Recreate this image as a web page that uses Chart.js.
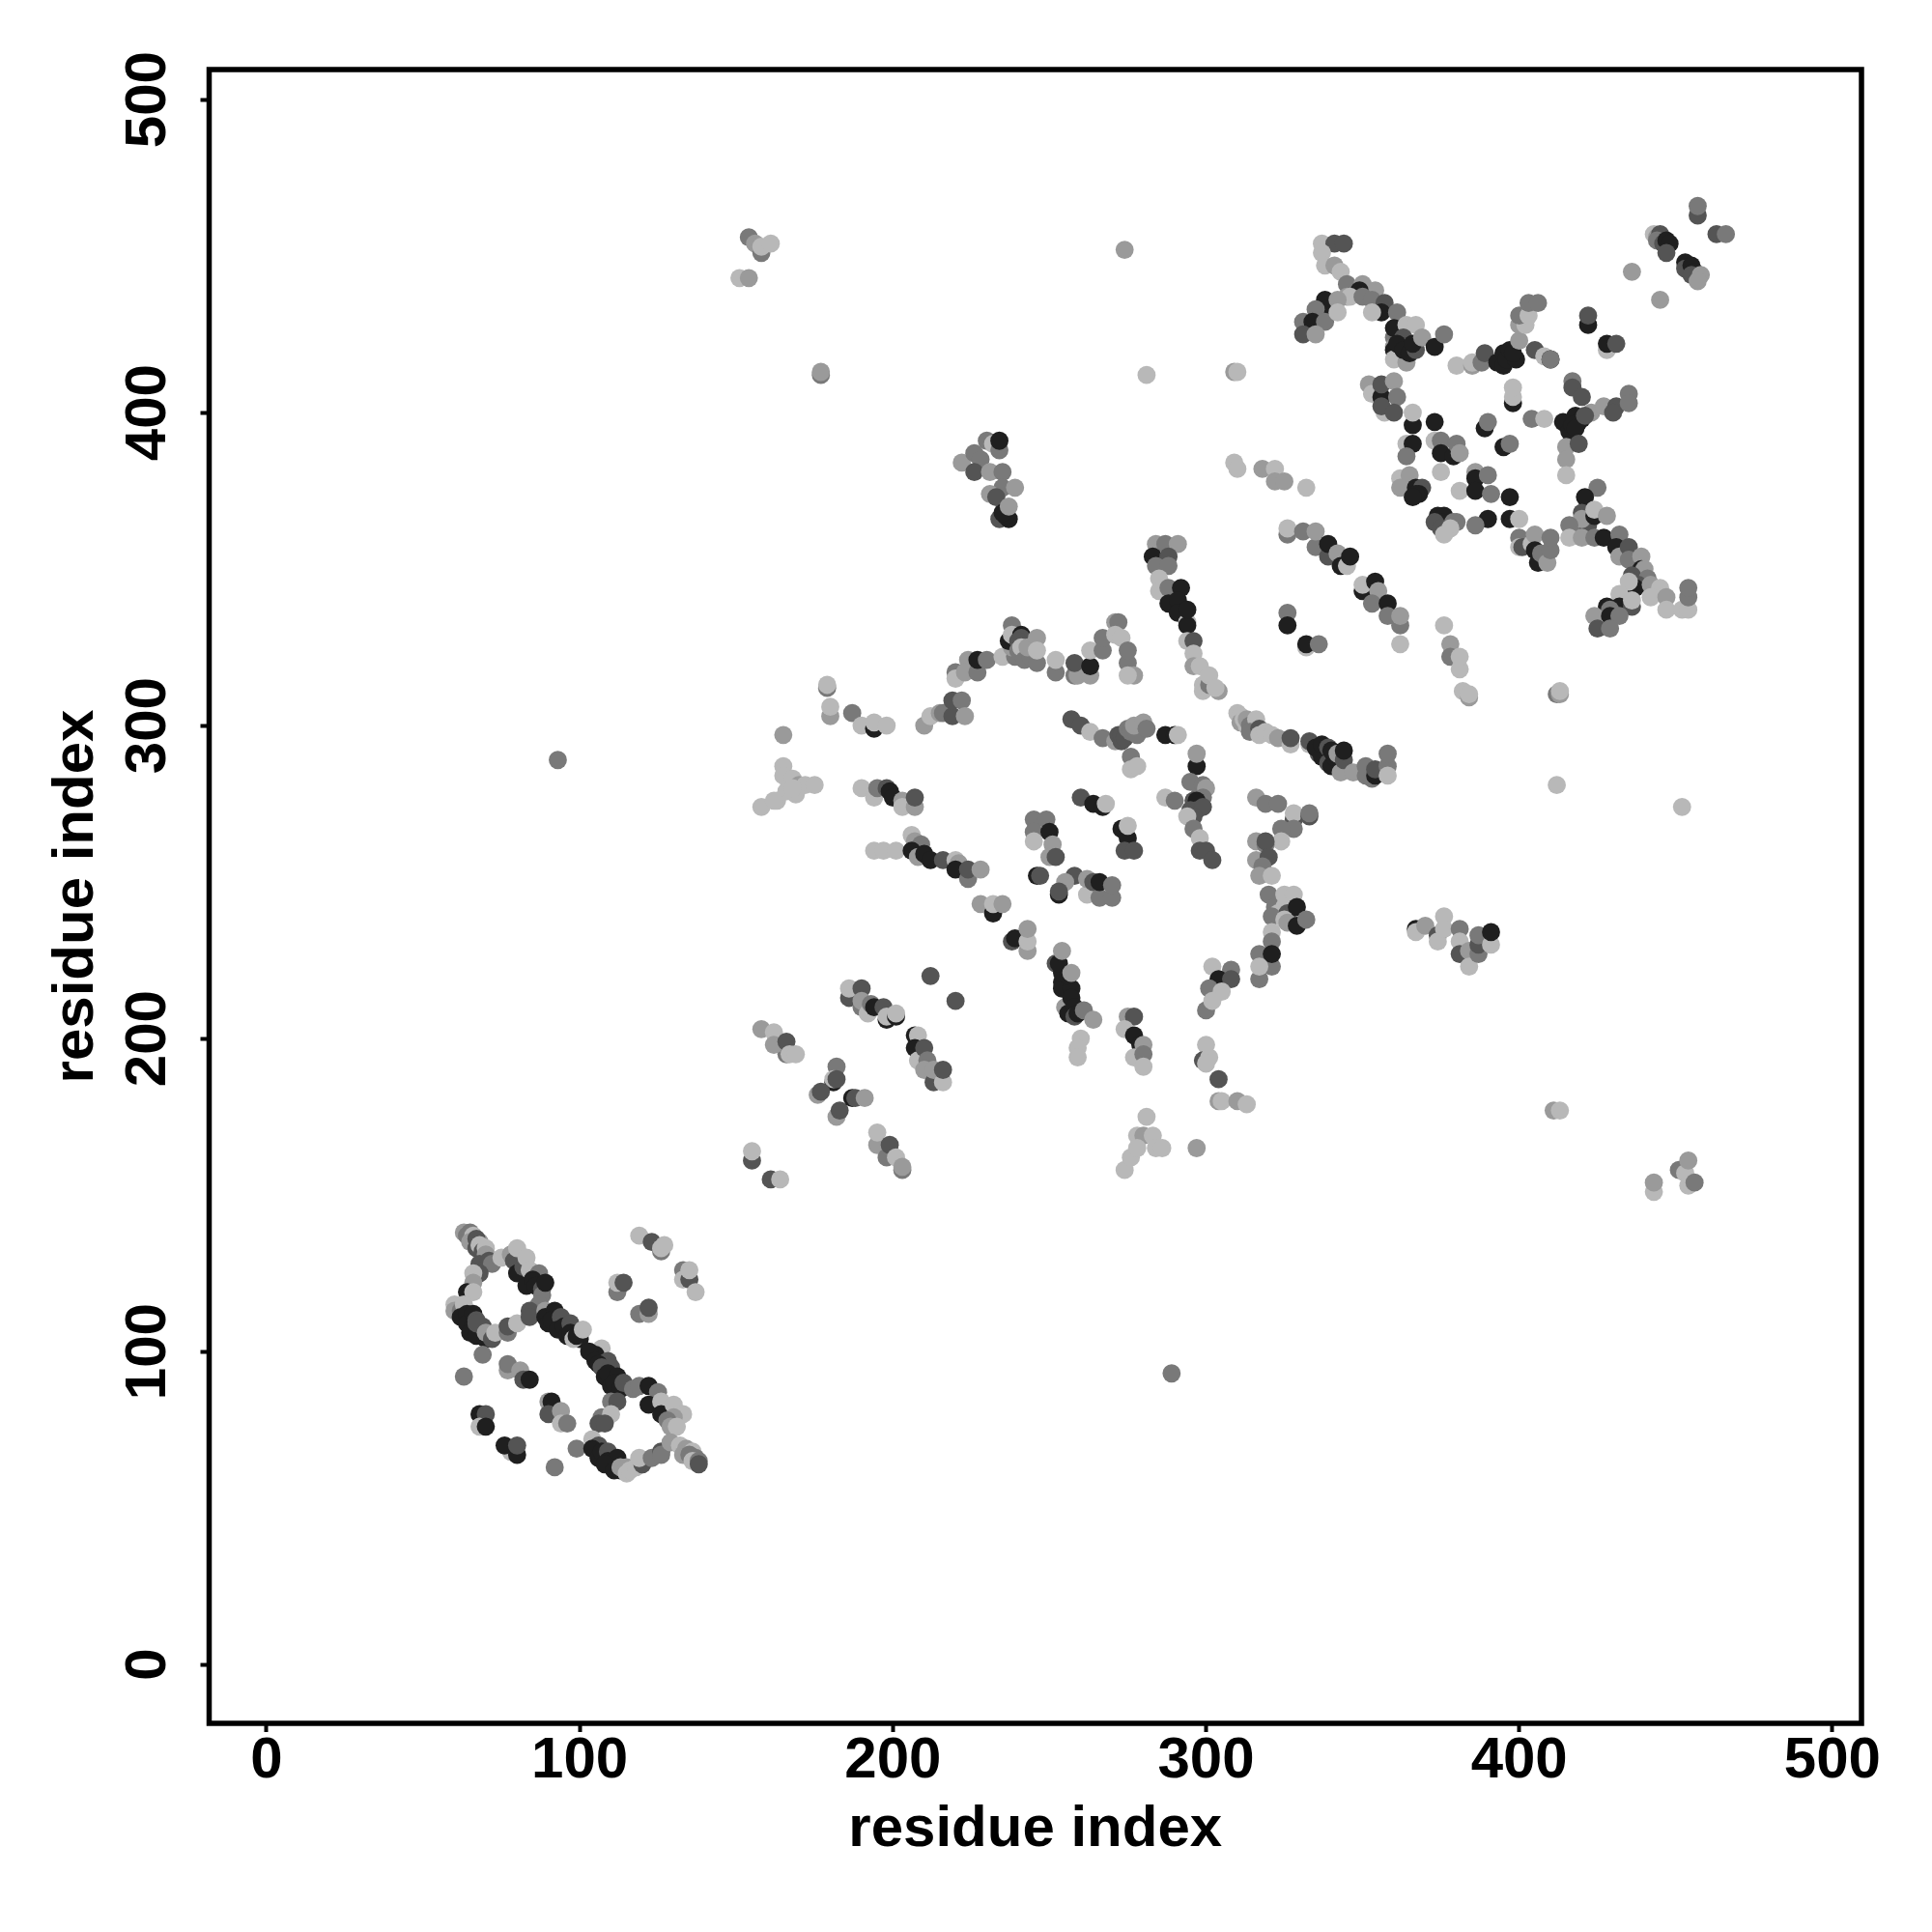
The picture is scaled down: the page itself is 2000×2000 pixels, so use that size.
<!DOCTYPE html>
<html>
<head>
<meta charset="utf-8">
<title>residue contacts</title>
<script src="https://cdn.jsdelivr.net/npm/chart.js@4"></script>
<style>
    html, body { margin: 0; padding: 0; background: #fff; }
    canvas { display: block; }
</style>
</head>
<body>
<canvas id="contactChart" width="2000" height="2000"></canvas>
<script>
// contacts: [residue x, residue y, darkness 1-5]
const lowerLeftContacts = [
    [63,138,2],[64,137,3],[65,138,3],[66,137,1],[65,135,2],[68,135,2],[67,136,4],[67,133,4],[68,134,1],[69,132,4],[70,133,1],[70,131,2],
    [68,128,4],[71,129,4],[72,128,3],[75,130,1],[78,131,2],[79,129,4],[80,128,4],[80,125,5],[80,133,1],[82,127,4],[83,130,1],[84,126,1],[87,125,3],[83,121,5],[85,123,5],[86,121,5],[88,120,4],[88,118,3],[87,115,3],[89,122,5],
    [68,125,4],[66,125,1],[66,122,2],[64,119,5],[66,119,1],[60,115,1],[60,113,2],[62,113,3],[63,115,1],
    [62,111,5],[64,112,5],[64,109,5],[66,112,5],[66,108,5],[65,106,5],[68,107,5],[67,105,5],[70,104,5],[67,110,4],[69,108,4],[67,109,4],[70,106,2],[72,104,4],[73,106,1],
    [77,106,3],[77,108,4],[80,109,1],[84,113,4],[84,111,4],
    [89,113,2],[89,111,5],[92,113,5],[90,109,5],[91,110,5],[94,111,4],[93,107,5],[95,108,5],[97,109,4],[96,105,5],[97,106,5],[100,104,5],[98,104,1],[99,105,5],[101,107,1],
    [69,99,3],[63,92,3],[77,94,2],[77,96,3],[81,94,2],[82,91,4],[84,91,5],
    [68,80,5],[70,80,4],[68,76,1],[70,76,5],[78,68,1],[76,70,5],[80,67,5],[80,70,4],
    [90,84,2],[91,84,5],[90,80,4],[94,81,2],[94,77,1],[96,77,3],[99,69,3],[92,63,3]
];
const lowerRightContacts = [
    [107,101,1],[105,99,5],[103,100,5],[105,97,5],[109,97,4],[106,96,5],[107,95,4],[110,95,4],[108,92,5],[109,93,5],[112,92,5],[110,89,5],[111,90,5],[113,88,5],[114,90,4],[117,88,3],[119,89,3],[122,89,5],[125,87,3],[122,83,5],[126,84,1],[126,80,5],[130,83,1],[133,80,1],[130,79,2],[128,78,3],[129,76,2],[131,76,1],
    [110,84,3],[112,84,4],[107,79,3],[110,80,1],[106,77,4],[108,77,4],[104,72,1],
    [106,70,4],[104,69,5],[106,66,5],[107,68,5],[109,68,4],[109,65,5],[111,64,4],[112,66,5],[108,64,5],[111,62,5],[113,62,5],[113,63,2],[115,63,2],[115,61,1],[116,62,1],[118,63,1],[120,64,4],[119,66,1],[123,66,3],[126,68,4],[126,67,3],
    [129,71,2],[132,70,1],[134,69,2],[133,67,2],[136,68,1],[135,67,3],[137,66,3],[136,65,1],[138,65,3],[138,64,4],
    [119,137,1],[123,135,4],[126,132,3],[126,133,1],[127,134,1],[133,126,3],[133,123,1],[135,123,4],[135,126,1],[137,119,1],
    [112,119,3],[112,122,1],[114,122,4],[119,112,3],[122,112,2],[122,114,4]
];
const diagonalStripContacts = [
    [155,161,4],[155,164,1],[161,155,4],[164,155,1],
    [166,195,3],[158,203,2],[162,202,1],[162,198,2],[166,199,4],[167,195,1],[169,195,1],
    [182,191,3],[181,186,5],[181,187,1],[182,187,4],[176,182,2],[177,183,4],[182,175,2],[183,177,4],[187,181,5],[188,181,4],[191,181,2],
    [195,166,2],[195,170,1],[198,162,3],[199,166,4],[201,162,1],[203,158,3],[203,159,2],
    [186,213,4],[186,216,1],[190,216,4],[190,210,3],[190,212,2],[192,208,1],[193,211,3],[194,210,5],[197,210,4],[198,206,5],[198,207,1],[201,207,5],[201,208,1],
    [212,220,4],[220,212,4],
    [207,201,5],[208,201,1],[207,197,5],[208,193,1],[210,197,4],[211,193,3],[210,190,2],[213,186,4],[213,190,2],[216,186,1],[216,190,4],
    [228,243,2],[232,240,5],[232,243,1],[235,243,2],[238,231,4],[239,232,5],[243,228,2],[243,231,1],[243,235,2],
    [252,224,4],[254,218,5],[254,216,5],[254,221,5],[253,224,5],[254,228,2],[257,216,5],[256,220,5],[257,221,2],[255,210,2],[257,213,5],[256,208,5],[258,210,5],[258,207,4],[259,208,5],[261,209,3],[264,206,2],
    [260,200,1],[259,197,1],[259,194,1],
    [275,207,2],[277,207,4],[274,203,1],[277,201,5],[279,198,5],[280,198,2],[277,194,1],[280,195,3],[280,191,1],
    [274,158,1],[276,162,1],[281,175,1],[278,169,1],[280,169,2],[283,169,1],[284,165,1],[278,165,1],[286,165,1],[297,165,2]
];
const centreBandContacts = [
    [165,297,2],[165,287,1],[165,284,1],[168,283,1],[170,281,2],[172,281,1],[175,281,1],[169,278,1],[166,279,1],[163,276,1],[168,280,1],[158,274,1],[162,276,1],
    [179,312,3],[179,313,1],[180,303,2],[180,306,1],[187,304,3],[190,300,1],[194,299,5],[194,301,1],[198,300,1],
    [210,300,2],[212,303,1],[215,304,2],[216,304,3],[219,303,4],[219,308,4],[222,308,3],[223,303,2],
    [220,317,3],[220,315,1],[224,321,2],[223,317,2],[227,317,3],[227,321,5],[230,321,3],[235,322,1],
    [238,332,3],[239,322,3],[238,325,2],[237,327,5],[238,329,1],[241,329,5],[241,328,4],[240,327,4],[240,324,3],[241,325,1],[242,321,3],[244,322,3],[243,325,2],[246,320,3],[246,328,2],[246,324,1],
    [252,317,3],[252,321,1],[258,316,3],[259,316,2],[258,320,4],[263,316,2],[263,319,5],[263,324,1],[267,324,3],[267,328,3],[271,333,2],[272,333,3],[271,329,1],[273,328,1],[275,320,3],[275,324,3],[277,316,2],[275,316,1],
    [257,302,4],[260,300,4],[263,298,1],[267,296,3],[271,295,2],[272,297,4],[273,295,4],[273,297,4],[274,296,4],[275,299,3],[276,298,3],[278,297,3],[277,300,2],[280,301,2],[281,299,3],[287,297,5],[290,297,5],[291,297,1],
    [276,290,3],[276,286,1],[278,287,1],
    [190,280,1],[194,277,1],[195,280,3],[198,280,4],[199,279,5],[200,277,5],[203,276,2],[203,274,1],[207,274,2],[207,277,4],
    [194,260,1],[197,260,1],[201,260,1],[206,265,1],[207,263,2],[209,262,3],[206,260,5],[208,258,2],[210,259,5],[212,257,5],[216,257,4],[220,257,1],[221,256,2],[220,254,5],[224,251,3],[224,254,4],[228,254,2],
    [245,270,3],[249,270,3],[245,266,3],[245,263,1],[250,266,5],[251,262,2],[250,258,2],[252,258,4],[246,252,5],[247,252,4],[258,252,4],[255,250,2],[253,246,5],[253,247,4],
    [262,246,1],[262,251,2],[264,250,4],[266,245,3],[266,250,5],[270,245,3],[270,249,3],
    [260,277,4],[264,275,5],[267,274,5],[268,275,1],[273,267,5],[275,264,5],[275,268,1],[274,260,4],[277,260,4]
];
const descendingColumnContacts = [
    [284,358,2],[287,358,3],[291,358,2],[283,354,5],[288,354,4],[284,351,3],[288,351,3],[285,347,1],[285,343,1],
    [288,344,3],[288,339,5],[292,344,5],[291,340,5],[291,336,5],[294,333,1],[294,332,5],[294,337,5],
    [294,327,1],[296,327,4],[296,323,1],[296,319,2],[298,319,1],[299,311,1],[299,313,1],[301,313,3],[301,316,1],[304,311,2],[303,312,1],
    [326,361,3],[326,363,1],[331,362,3],[335,357,3],[335,362,2],[339,354,4],[339,358,5],[342,355,2],[343,351,5],[345,351,1],[346,354,5],
    [350,343,5],[350,345,1],[354,346,5],[355,343,2],[353,339,3],[358,339,5],[358,335,3],[362,332,3],[362,335,2],[362,326,1]
];
const rightBandContacts = [
    [297,287,5],[297,291,2],[295,282,3],[298,278,3],[299,281,3],[300,280,2],[299,277,3],[296,276,4],[297,276,5],[295,273,4],[297,273,4],[299,274,4],[296,271,4],[294,271,1],[287,277,1],[290,276,3],[296,267,3],[298,264,1],[298,260,4],[300,260,4],[302,257,4],
    [310,304,1],[311,303,1],[311,301,2],[312,302,1],[313,300,1],[313,302,2],[314,300,3],[316,302,1],[314,298,3],[317,299,4],[317,297,1],[319,298,1],[321,297,1],[323,296,2],[327,294,1],[327,296,4],[333,294,1],[333,295,4],[336,291,4],[335,293,5],[337,290,5],[337,294,5],[339,288,4],[339,293,4],[340,287,5],[341,290,5],[340,292,5],[342,291,2],[343,285,2],[344,289,4],[344,292,5],[347,285,2],[351,284,3],[351,287,3],[353,283,3],[354,284,5],[354,286,4],[358,287,3],[358,291,3],[358,284,1],
    [316,277,2],[319,275,3],[323,275,3],[328,270,4],[328,272,1],[333,271,4],[333,272,3],[328,267,3],[324,267,3],[324,263,1],[316,263,2],[319,262,3],[319,263,4],[316,257,2],[320,258,4],[318,255,3],[317,252,2],[321,252,1],
    [320,246,3],[322,242,3],[325,246,1],[328,246,1],[325,242,1],[323,240,1],[326,240,4],[329,242,5],[321,239,3],[325,238,1],[326,237,2],[329,236,5],[332,238,3],[321,234,1],[321,231,3],[317,227,3],[321,223,3],[321,227,5],[317,219,3],[317,223,1],
    [302,223,1],[308,222,3],[304,219,5],[308,219,4],[301,216,3],[305,215,1],[300,209,3],[302,212,1],[300,198,1],[299,193,4],[301,194,1],[300,192,1],
    [304,187,4],[304,180,2],[305,180,1],[310,180,2],[313,179,1],
    [376,332,1],[378,326,2],[378,322,3],[381,318,1],[381,322,1],[382,311,1],[384,309,2],[384,310,1],
    [412,310,3],[413,310,2],[413,311,1],[412,281,1],[452,274,1],
    [326,336,3],[326,332,5],[332,325,1],[332,326,5],[336,326,3],
    [367,235,5],[367,234,1],[370,236,2],[374,233,4],[374,231,1],[376,239,1],[376,235,1],[381,235,3],[381,231,1],[381,227,4],[384,228,2],[384,223,1],[387,227,3],[387,230,4],[387,233,3],[391,230,1],[391,234,5],
    [411,177,2],[413,177,1],[443,151,1],[443,154,2],[451,158,3],[453,157,1],[454,161,2],[454,153,1],[456,154,3]
];
const upperCentreContacts = [
    [222,384,2],[226,387,3],[228,385,3],[230,391,3],[232,390,1],[234,388,3],[234,391,5],[226,381,4],[231,381,2],[235,381,3],[235,376,3],[239,376,2],[231,374,2],[233,373,4],[234,366,4],[237,366,5],[236,367,5],[235,368,5],[237,370,2],
    [154,456,3],[156,454,2],[158,451,3],[158,453,1],[161,454,1],[151,443,1],[154,443,2],
    [177,412,3],[177,413,2],[281,412,1],[274,452,2],[93,289,3],[289,93,3],
    [309,413,2],[310,413,1],[309,384,1],[310,382,1],[318,382,2],[322,382,1],[322,378,2],[325,378,2],[332,376,1]
];
const upperRightContacts = [
    [337,454,1],[341,454,4],[344,454,4],[337,451,1],[338,447,1],[341,447,2],[343,445,1],[345,441,3],[350,441,2],[354,439,2],[349,439,5],[345,437,2],[346,437,1],[350,437,3],[353,436,3],[357,435,4],[356,432,5],[353,432,1],[361,432,3],
    [338,436,5],[338,433,5],[335,433,3],[331,429,3],[334,429,5],[338,429,3],[342,436,2],[342,432,1],[331,425,4],[335,425,2],
    [360,424,3],[360,427,5],[360,421,2],[360,420,5],[360,417,1],[364,428,1],[367,428,1],[364,416,2],[363,424,4],[361,422,5],[363,420,5],[365,419,5],[367,420,4],[366,422,5],[369,424,2],[373,421,5],[376,425,3],
    [380,415,1],[385,415,2],[385,416,1],[388,416,3],[389,419,4],[393,416,5],[395,419,5],[395,415,5],[396,417,5],[397,420,5],[399,417,5],[398,419,5],[400,423,2],[400,428,2],[402,428,1],[400,431,3],[403,431,1],[403,435,3],[406,435,3],[405,420,4],[408,418,1],[410,417,5],[410,417,3],
    [398,403,5],[398,405,1],[398,408,1],
    [422,428,5],[422,431,4],[428,420,1],[428,422,5],[431,422,4],
    [404,398,3],[408,398,1],[389,395,5],[390,397,3],[395,389,5],[397,390,3],
    [352,409,2],[353,406,1],[356,405,5],[356,409,4],[360,410,2],[361,405,3],[357,400,1],[356,402,4],[360,400,4],
    [366,396,5],[366,400,1],[373,397,5],
    [364,390,1],[366,390,5],[364,386,3],[373,391,1],[375,391,3],[375,387,5],[379,386,5],[380,390,3],[381,387,2],
    [375,381,1],[381,375,1],
    [362,379,1],[365,380,2],[362,376,2],[367,376,5],[369,376,4],[368,374,5],[367,374,5],[366,373,5],
    [386,381,2],[386,379,5],[390,380,3],[386,375,5],[391,374,3],[397,373,5],[397,366,5],[400,366,1],[390,366,5],[386,364,3],
    [374,367,5],[376,367,5],[375,365,5],[373,365,4],[377,363,5],[375,363,4],[379,365,3],[380,365,3],[378,363,1],[376,361,1],
    [417,410,3],[417,408,4],[420,405,4],[423,400,2],[418,399,5],[419,397,5],[414,397,5],[420,398,5],[416,394,5],[417,396,5],[418,395,5],[421,399,4],[427,402,2],[431,402,4],[430,400,4],[435,406,3],[435,403,3],
    [415,389,2],[419,390,4],[415,385,2],[415,380,1],
    [425,376,3],[421,373,5],[420,368,4],[420,365,4],[418,362,3],[422,364,4],[420,366,2],[416,364,3],[416,360,1],[420,360,2],[424,367,5],[424,369,1],[428,367,2],[424,360,3],[427,360,5],
    [432,361,3],[431,357,5],[432,354,2],[435,357,4],[435,353,3],[439,354,2],[439,350,5],[440,350,2],[436,348,4],[441,347,3],[438,345,4],[437,344,5],[435,346,1],[442,345,2],[445,344,1],[442,341,1],[447,341,2],
    [432,342,1],[428,338,5],[432,338,5],[436,338,4],[436,340,1],[429,337,3],[424,335,2],[429,335,5],[432,335,3],[425,331,4],[429,331,3],
    [447,337,1],[452,337,1],[454,337,1],[454,341,3],[454,344,3],
    [400,360,3],[400,357,1],[401,357,4],[404,358,1],[405,361,2],[405,356,5],[406,352,5],[407,355,3],[409,352,2],[410,356,3],[410,360,3],
    [457,463,4],[457,466,3],[463,457,4],[466,457,3],
    [443,457,1],[444,456,2],[445,457,4],[444,455,3],[446,454,4],[447,455,5],[448,454,5],[447,451,4],
    [453,448,5],[453,446,4],[455,447,5],[456,445,5],[455,444,4],[458,444,2],[457,442,2],
    [436,445,2],[445,436,2]
];

const contacts = [].concat(
    lowerLeftContacts, lowerRightContacts, diagonalStripContacts, centreBandContacts,
    descendingColumnContacts, rightBandContacts, upperCentreContacts, upperRightContacts
);

const axisTicks = [0, 100, 200, 300, 400, 500];
const axisTitle = 'residue index';
const shades = ['#b8b8b8', '#9a9a9a', '#797979', '#545454', '#1f1f1f'];

document.addEventListener('DOMContentLoaded', function() {
    const fontFamily = "'Liberation Sans', Arial, sans-serif";
    const ctx = document.getElementById('contactChart').getContext('2d');

    // black box around the plot, R style
    const frameBox = {
        id: 'frameBox',
        afterDatasetsDraw(chart) {
            const { ctx, chartArea: a } = chart;
            ctx.save();
            ctx.strokeStyle = '#000';
            ctx.lineWidth = 5.5;
            ctx.strokeRect(a.left, a.top, a.right - a.left, a.bottom - a.top);
            ctx.restore();
        }
    };

    const axisOptions = (min, max) => ({
        type: 'linear',
        min: min,
        max: max,
        afterBuildTicks: scale => { scale.ticks = axisTicks.map(v => ({ value: v })); },
        grid: {
            drawOnChartArea: false,
            drawTicks: true,
            tickLength: 9,
            tickWidth: 4,
            tickColor: '#000'
        },
        border: { display: false }
    });

    const xAxis = axisOptions(-18.35, 509.3);
    xAxis.afterFit = scale => { scale.height = 216; };
    xAxis.ticks = {
        color: '#000',
        maxRotation: 0,
        minRotation: 0,
        padding: 0,
        font: { family: fontFamily, size: 60, weight: 'bold', lineHeight: 1 }
    };
    xAxis.title = {
        display: true,
        text: axisTitle,
        color: '#000',
        padding: { top: 0, bottom: 76 },
        font: { family: fontFamily, size: 60, weight: 'bold', lineHeight: 1 }
    };

    const yAxis = axisOptions(-18.8, 509.6);
    yAxis.afterFit = scale => { scale.width = 216.5; };
    yAxis.ticks = {
        color: '#000',
        minRotation: 90,
        maxRotation: 90,
        crossAlign: 'center',
        padding: 3,
        font: { family: fontFamily, size: 60, weight: 'bold', lineHeight: 1 }
    };
    yAxis.title = {
        display: true,
        text: axisTitle,
        color: '#000',
        padding: { top: 49, bottom: 0 },
        font: { family: fontFamily, size: 60, weight: 'bold', lineHeight: 1 }
    };

    new Chart(ctx, {
        type: 'scatter',
        data: {
            datasets: [{
                data: contacts.map(c => ({ x: c[0], y: c[1] })),
                backgroundColor: contacts.map(c => shades[c[2] - 1]),
                borderWidth: 0,
                pointRadius: 9.4
            }]
        },
        options: {
            responsive: false,
            animation: false,
            layout: { padding: { left: 0, top: 72, right: 73, bottom: 0 } },
            plugins: {
                legend: { display: false },
                tooltip: { enabled: false }
            },
            scales: { x: xAxis, y: yAxis }
        },
        plugins: [frameBox]
    });
});
</script>
</body>
</html>
